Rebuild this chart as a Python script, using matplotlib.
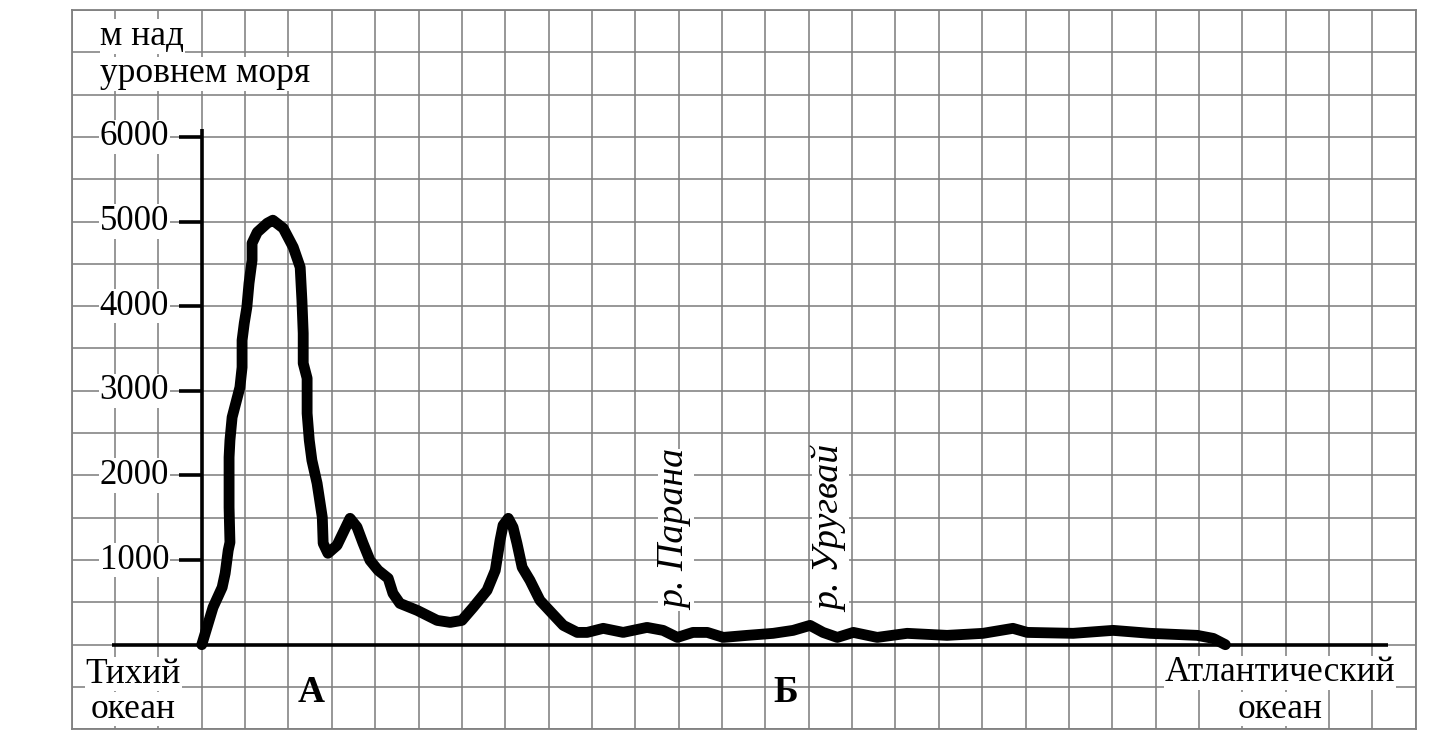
import matplotlib
matplotlib.use("Agg")
import matplotlib.pyplot as plt
import numpy as np

# Profile: x in grid cells from the Pacific coast, y in metres above sea level
dist = [0, 0.26, 0.47, 0.54, 0.61, 0.65, 0.63, 0.63, 0.65, 0.70, 0.88, 0.93, 0.93, 0.98,
        1.04, 1.09, 1.16, 1.16, 1.28, 1.51, 1.64, 1.88, 2.11, 2.27, 2.31, 2.34, 2.34,
        2.43, 2.43, 2.43, 2.48, 2.54, 2.66, 2.78, 2.80, 2.91, 3.12, 3.42, 3.58, 3.72,
        3.88, 4.07, 4.30, 4.41, 4.57, 4.97, 5.43, 5.73, 6.00, 6.26, 6.58, 6.77, 6.88,
        6.95, 7.07, 7.18, 7.27, 7.39, 7.57, 7.80, 8.08, 8.34, 8.66, 8.89, 9.26, 9.72,
        10.27, 10.64, 10.97, 11.33, 11.66, 12.03, 12.58, 13.18, 13.64, 14.03, 14.33,
        14.66, 15.03, 15.58, 16.27, 17.19, 18.02, 18.71, 19.04, 20.10, 21.02, 21.88,
        22.96, 23.33, 23.61]
elev = [0, 441, 677, 843, 1115, 1209, 1623, 2214, 2415, 2687, 3041, 3278, 3597, 3798,
        3987, 4271, 4543, 4744, 4874, 4980, 5016, 4921, 4697, 4460, 4070, 3680, 3325,
        3148, 3041, 2734, 2415, 2179, 1907, 1505, 1198, 1080, 1174, 1493, 1390, 1198,
        997, 878, 784, 606, 488, 405, 287, 263, 287, 441, 642, 878, 1233,
        1411, 1493, 1387, 1198, 914, 760, 524, 370, 228, 145, 145, 193, 145,
        204, 169, 86, 145, 145, 86, 110, 134, 169, 228, 145,
        86, 145, 86, 134, 110, 134, 193, 145, 134, 169, 134,
        110, 74, 0]

yticks = [1000, 2000, 3000, 4000, 5000, 6000]
ytick_labels = ["1000", "2000", "3000", "4000", "5000", "6000"]

W, H = 1456, 739
fig = plt.figure(figsize=(W / 100, H / 100), dpi=100)
left, right, top, bottom = 71.7, 1415.7, 10.0, 729.3
ax = fig.add_axes([left / W, 1 - bottom / H, (right - left) / W, (bottom - top) / H])
ax.set_xlim(-3, 28)
ax.set_ylim(-1000, 7500)
ax.set_xticks(np.arange(-3, 29, 1))
ax.set_yticks(np.arange(-1000, 7501, 500))
ax.tick_params(length=0, labelbottom=False, labelleft=False)
ax.grid(True, color="#808080", linewidth=1.15)
for s in ax.spines.values():
    s.set_color("#808080")
    s.set_linewidth(1.3)

serif = "Liberation Serif"
fs = 25.5
white = dict(facecolor="white", edgecolor="none", pad=0.5)

# axes
ax.plot([-2.07, 27.36], [0, 0], color="black", lw=2.6, solid_capstyle="butt", zorder=3)
ax.plot([0, 0], [0, 6090], color="black", lw=2.6, solid_capstyle="butt", zorder=3)
for t, lab in zip(yticks, ytick_labels):
    ax.plot([-0.52, 0], [t, t], color="black", lw=2.6, solid_capstyle="butt", zorder=3)
    ax.text(-0.75, t, lab, ha="right", va="center", fontsize=25, family=serif,
            bbox=white, zorder=4)

# profile
ax.plot(dist, elev, color="black", lw=7.8, solid_capstyle="round",
        solid_joinstyle="round", zorder=5)

ax.text(-2.34, 7084, "м над", ha="left", va="baseline", fontsize=fs, family=serif, bbox=white)
ax.text(-2.34, 6646, "уровнем моря", ha="left", va="baseline", fontsize=fs, family=serif,
        bbox=white)

ax.text(-1.58, -447, "Тихий", ha="center", va="baseline", fontsize=fs, family=serif, bbox=white)
ax.text(-1.58, -861, "океан", ha="center", va="baseline", fontsize=fs, family=serif, bbox=white)
ax.text(24.87, -435, "Атлантический", ha="center", va="baseline", fontsize=fs, family=serif,
        bbox=white)
ax.text(24.87, -861, "океан", ha="center", va="baseline", fontsize=fs, family=serif, bbox=white)

ax.text(2.53, -683, "А", ha="center", va="baseline", fontsize=27, family=serif,
        fontweight="bold")
ax.text(13.46, -683, "Б", ha="center", va="baseline", fontsize=27, family=serif,
        fontweight="bold")

ax.text(11.15, 406, "р. Парана", rotation=90, rotation_mode="anchor", ha="left",
        va="baseline", fontsize=27.3, family=serif, style="italic", bbox=white, zorder=4)
ax.text(14.73, 383, "р. Уругвай", rotation=90, rotation_mode="anchor", ha="left",
        va="baseline", fontsize=27.3, family=serif, style="italic", bbox=white, zorder=4)

fig.savefig("out.png", dpi=100, facecolor="white")
